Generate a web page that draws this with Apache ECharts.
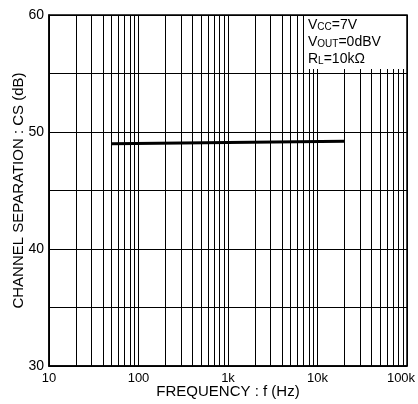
<!DOCTYPE html>
<html>
<head>
    <meta charset="UTF-8">
    <title>Channel separation vs frequency</title>
    <script src="https://cdn.jsdelivr.net/npm/echarts@6/dist/echarts.min.js"></script>
    <style>
        html, body { margin: 0; padding: 0; background: #fff; }
    </style>
</head>
<body>
<div id="main" style="width: 418px;height:404px;"></div>
<script type="text/javascript">
    // data
    var freq = [50, 1000, 20000];
    var cs = [49.0, 49.1, 49.2];

    // grid: decades and the 2..9 lines inside them
    var decades = [10, 100, 1000, 10000];
    var steps = [2, 3, 4, 5, 6, 7, 8, 9];
    var xLabels = {10: '10', 100: '100', 1000: '1k', 10000: '10k', 100000: '{e|100k}'};

    var minorLines = [];
    decades.forEach(function (d) {
        steps.forEach(function (m) {
            minorLines.push({xAxis: d * m});
        });
    });

    var points = freq.map(function (f, i) { return [f, cs[i]]; });

    var myChart = echarts.init(document.getElementById('main'));

    var font = 'Liberation Sans, Arial, sans-serif';

    var option = {
        animation: false,
        grid: {
            left: 49,
            right: 11,
            top: 15,
            bottom: 38,
            outerBoundsMode: 'none',
            show: true,
            borderColor: '#000',
            borderWidth: 1.5
        },
        xAxis: {
            type: 'log',
            logBase: 10,
            min: 10,
            max: 100000,
            axisLine: {show: true, lineStyle: {color: '#000', width: 1.5}},
            axisTick: {show: false},
            splitLine: {show: true, lineStyle: {color: '#000', width: 1}},
            axisLabel: {
                color: '#000',
                fontFamily: font,
                fontSize: 13,
                margin: 6,
                formatter: function (v) { return xLabels[Math.round(v)] || ''; },
                rich: {
                    e: {fontFamily: font, fontSize: 13, color: '#000', padding: [0, 12, 0, 0]}
                }
            },
            name: 'FREQUENCY : f (Hz)',
            nameLocation: 'middle',
            nameGap: 18,
            nameMoveOverlap: false,
            nameTextStyle: {color: '#000', fontFamily: font, fontSize: 15, verticalAlign: 'top'}
        },
        yAxis: {
            type: 'value',
            min: 30,
            max: 60,
            interval: 5,
            axisLine: {show: true, lineStyle: {color: '#000', width: 1.5}},
            axisTick: {show: false},
            splitLine: {show: true, lineStyle: {color: '#000', width: 1}},
            axisLabel: {
                color: '#000',
                fontFamily: font,
                fontSize: 14,
                margin: 5,
                formatter: function (v) { return v % 10 === 0 ? String(v) : ''; }
            },
            name: 'CHANNEL SEPARATION : CS (dB)',
            nameLocation: 'middle',
            nameGap: 23,
            nameMoveOverlap: false,
            nameTextStyle: {color: '#000', fontFamily: font, fontSize: 15}
        },
        graphic: [
            {
                type: 'rect',
                left: 305,
                top: 16,
                shape: {width: 101, height: 53},
                style: {fill: '#fff'},
                z: 10
            },
            {
                type: 'text',
                left: 308,
                top: 18,
                z: 11,
                style: {
                    text: '{b|V}{s|CC}{b|=7V}\n{b|V}{s|OUT}{b|=0dBV}\n{b|R}{s|L}{b|=10kΩ}',
                    fill: '#000',
                    rich: {
                        b: {fontFamily: font, fontSize: 14, lineHeight: 17, verticalAlign: 'bottom'},
                        s: {fontFamily: font, fontSize: 10, lineHeight: 17, verticalAlign: 'bottom'}
                    }
                }
            }
        ],
        series: [
            {
                name: 'grid',
                type: 'line',
                data: [],
                silent: true,
                markLine: {
                    silent: true,
                    symbol: 'none',
                    label: {show: false},
                    lineStyle: {color: '#000', width: 1, type: 'solid'},
                    data: minorLines
                }
            },
            {
                name: 'CS',
                type: 'line',
                data: points,
                showSymbol: false,
                lineStyle: {color: '#000', width: 3},
                z: 5
            }
        ]
    };

    myChart.setOption(option);
</script>
</body>
</html>
